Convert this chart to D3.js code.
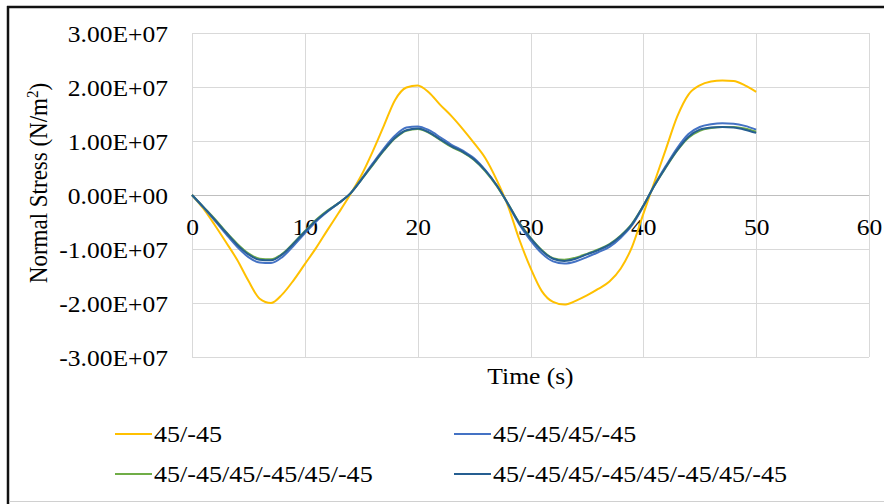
<!DOCTYPE html>
<html>
<head>
<meta charset="utf-8">
<script src="https://cdn.jsdelivr.net/npm/d3@7"></script>
<style>
  html, body { margin: 0; padding: 0; background: #fff; }
  svg { display: block; }
  text { font-family: "Liberation Serif", "Tinos", "Times New Roman", serif; fill: #000; }
</style>
</head>
<body>
<svg id="chart" width="884" height="504"></svg>
<script>
// Time samples (s)
const timeS = [0,1,2,3,4,5,6,7,8,9,10,11,12,13,14,15,16,17,18,19,20,21,22,23,24,25,
  26,27,28,29,30,31,32,33,34,35,36,37,38,39,40,41,42,43,44,45,46,47,48,49,50];

// Normal stress (N/m^2) for each laminate lay-up
const stress2Ply = [0,-2.5e6,-5.5e6,-8.7e6,-12.0e6,-15.9e6,-19.2e6,-20.0e6,-18.4e6,-15.8e6,
  -12.8e6,-9.8e6,-6.5e6,-3.3e6,0,3.6e6,8.0e6,12.8e6,17.6e6,19.9e6,20.3e6,19.0e6,16.7e6,
  14.6e6,12.2e6,9.6e6,6.8e6,2.8e6,-2.0e6,-8.2e6,-13.5e6,-17.8e6,-19.8e6,-20.3e6,-19.6e6,
  -18.6e6,-17.4e6,-16.0e6,-13.6e6,-9.6e6,-3.5e6,2.5e6,8.5e6,14.5e6,18.6e6,20.3e6,21.0e6,
  21.2e6,21.1e6,20.3e6,19.1e6];

const stress4Ply = [0,-2.3e6,-4.7e6,-7.2e6,-9.6e6,-11.5e6,-12.5e6,-12.6e6,-11.5e6,-9.4e6,
  -7.1e6,-4.9e6,-3.1e6,-1.5e6,0.2e6,2.9e6,5.8e6,8.6e6,11.0e6,12.5e6,12.7e6,12.0e6,10.7e6,
  9.3e6,8.2e6,6.8e6,4.6e6,1.8e6,-1.7e6,-5.4e6,-8.4e6,-10.8e6,-12.3e6,-12.7e6,-12.3e6,
  -11.5e6,-10.6e6,-9.6e6,-7.9e6,-5.6e6,-2.1e6,1.9e6,5.4e6,8.7e6,11.3e6,12.6e6,13.1e6,
  13.3e6,13.2e6,12.8e6,12.1e6];

const stress6Ply = [0,-2.2e6,-4.4e6,-6.8e6,-9.0e6,-10.8e6,-11.8e6,-11.9e6,-10.9e6,-8.9e6,
  -6.7e6,-4.6e6,-2.9e6,-1.5e6,0.2e6,2.8e6,5.5e6,8.2e6,10.5e6,11.9e6,12.2e6,11.5e6,10.2e6,
  8.9e6,7.9e6,6.5e6,4.4e6,1.7e6,-1.6e6,-5.1e6,-7.9e6,-10.2e6,-11.7e6,-12.0e6,-11.6e6,
  -10.9e6,-10.1e6,-9.1e6,-7.5e6,-5.3e6,-2.0e6,1.8e6,5.1e6,8.2e6,10.6e6,11.9e6,12.4e6,
  12.6e6,12.6e6,12.3e6,11.7e6];

const stress8Ply = [0,-2.2e6,-4.5e6,-6.9e6,-9.2e6,-11.0e6,-12.0e6,-12.1e6,-11.0e6,-9.0e6,
  -6.8e6,-4.7e6,-3.0e6,-1.5e6,0.2e6,2.8e6,5.6e6,8.3e6,10.6e6,12.0e6,12.3e6,11.6e6,10.3e6,
  9.0e6,8.0e6,6.6e6,4.5e6,1.8e6,-1.6e6,-5.2e6,-8.0e6,-10.3e6,-11.8e6,-12.2e6,-11.8e6,
  -11.0e6,-10.2e6,-9.2e6,-7.6e6,-5.4e6,-2.0e6,1.8e6,5.2e6,8.3e6,10.8e6,12.1e6,12.5e6,
  12.6e6,12.5e6,12.1e6,11.5e6];

const seriesNames = ["45/-45", "45/-45/45/-45", "45/-45/45/-45/45/-45", "45/-45/45/-45/45/-45/45/-45"];
const seriesValues = [stress2Ply, stress4Ply, stress6Ply, stress8Ply];

// Axis ticks
const xTicks = [0, 10, 20, 30, 40, 50, 60];
const yTicks = [-3e7, -2e7, -1e7, 0, 1e7, 2e7, 3e7];
const yTickLabels = ["-3.00E+07", "-2.00E+07", "-1.00E+07", "0.00E+00", "1.00E+07", "2.00E+07", "3.00E+07"];

// Styling
const lineColors = ["#FFC000", "#4472C4", "#70AD47", "#255E91"];
const fontSize = 23;
const legendFontSize = 23.5;
const textStretch = "scale(1.11,1)";   // slightly wide lettering

const svg = d3.select("#chart");
const W = 884, H = 504;
const plot = { left: 192, right: 869, top: 33, bottom: 357 };

svg.append("rect").attr("width", W).attr("height", H).attr("fill", "#fff");

const x = d3.scaleLinear().domain([0, 60]).range([plot.left, plot.right]);
const y = d3.scaleLinear().domain([-3e7, 3e7]).range([plot.bottom, plot.top]);

// Gridlines
const grid = svg.append("g").attr("stroke", "#D9D9D9").attr("stroke-width", 1).attr("shape-rendering", "crispEdges");
grid.selectAll("line.h").data(yTicks).join("line")
  .attr("x1", plot.left).attr("x2", plot.right)
  .attr("y1", d => Math.round(y(d)) + 0.5).attr("y2", d => Math.round(y(d)) + 0.5);
grid.selectAll("line.v").data(xTicks).join("line")
  .attr("x1", d => Math.round(x(d)) + 0.5).attr("x2", d => Math.round(x(d)) + 0.5)
  .attr("y1", plot.top).attr("y2", plot.bottom);

// Zero axis line
svg.append("line")
  .attr("x1", plot.left).attr("x2", plot.right)
  .attr("y1", Math.round(y(0)) + 0.5).attr("y2", Math.round(y(0)) + 0.5)
  .attr("stroke", "#BFBFBF").attr("stroke-width", 1);

// X axis labels sit just under the zero line
const xAxis = d3.axisBottom(x).tickValues(xTicks).tickSize(0).tickPadding(24).tickFormat(d3.format("d"));
const gx = svg.append("g").attr("transform", `translate(0,${y(0)})`).call(xAxis);
gx.attr("font-family", null).attr("font-size", null);
gx.select(".domain").remove();
gx.selectAll("text").style("font-size", fontSize + "px").attr("transform", textStretch);

// Y axis labels
const yAxis = d3.axisLeft(y).tickValues(yTicks).tickSize(0).tickPadding(24)
  .tickFormat((d, i) => yTickLabels[i]);
const gy = svg.append("g").attr("transform", `translate(${plot.left},0)`).call(yAxis);
gy.attr("font-family", null).attr("font-size", null);
gy.select(".domain").remove();
gy.selectAll("text").style("font-size", fontSize + "px")
  .attr("x", 0).attr("dy", "0.38em")
  .attr("transform", `translate(-24,0) ${textStretch}`);

// Series lines
const line = d3.line().curve(d3.curveMonotoneX).x((d, i) => x(timeS[i])).y(d => y(d));
svg.append("g").selectAll("path").data(seriesValues).join("path")
  .attr("d", line)
  .attr("fill", "none")
  .attr("stroke", (d, i) => lineColors[i])
  .attr("stroke-width", 2)
  .attr("stroke-linejoin", "round");

// Axis titles
svg.append("text")
  .attr("transform", `translate(${(plot.left + plot.right) / 2},384) ${textStretch}`)
  .attr("text-anchor", "middle").style("font-size", fontSize + "px")
  .text("Time (s)");

const yTitle = svg.append("text")
  .attr("transform", `translate(47,183) ${textStretch} rotate(-90)`)
  .attr("text-anchor", "middle").style("font-size", fontSize + "px");
yTitle.append("tspan").text("Normal Stress (N/m");
yTitle.append("tspan").attr("dy", -8).style("font-size", "15px").text("2");
yTitle.append("tspan").attr("dy", 8).text(")");

// Legend
const legendPos = [[115, 434], [454, 434], [115, 474], [454, 474]];
const lg = svg.append("g").selectAll("g").data(seriesNames).join("g")
  .attr("transform", (d, i) => `translate(${legendPos[i][0]},${legendPos[i][1]})`);
lg.append("line").attr("x1", 0).attr("x2", 37).attr("y1", 0).attr("y2", 0)
  .attr("stroke", (d, i) => lineColors[i]).attr("stroke-width", 2);
lg.append("text").attr("dy", "0.35em")
  .attr("transform", `translate(39,0) ${textStretch}`)
  .style("font-size", legendFontSize + "px").text(d => d);

// Frame
svg.append("line").attr("x1", 7).attr("x2", W).attr("y1", 7).attr("y2", 7)
  .attr("stroke", "#111").attr("stroke-width", 2.5);
svg.append("line").attr("x1", 8).attr("x2", 8).attr("y1", 6).attr("y2", H)
  .attr("stroke", "#111").attr("stroke-width", 2.5);
svg.append("line").attr("x1", 9).attr("x2", W).attr("y1", 501.5).attr("y2", 501.5)
  .attr("stroke", "#D0D0D0").attr("stroke-width", 1);
</script>
</body>
</html>
